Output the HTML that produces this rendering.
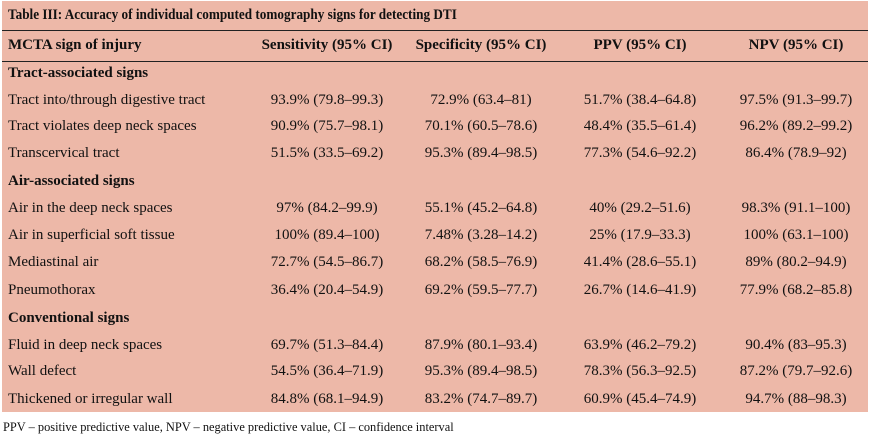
<!DOCTYPE html>
<html><head><style>
body{margin:0;width:869px;height:435px;background:#fff;font-family:"Liberation Serif",serif;font-size:15px;color:#111;position:relative;overflow:hidden}
.bg{position:absolute;left:2px;top:1px;width:866px;height:411px;background:#edb8a8}
.l{position:absolute;left:2px;width:866px;height:1px;background:#222}
.r{position:absolute;left:0;width:869px;height:20px;line-height:20px;white-space:nowrap}
.r span{position:absolute;text-align:center;width:170px}
.a{left:8px;text-align:left!important;width:auto!important}
.c1{left:242px}.c2{left:396px}.c3{left:555px}.c4{left:711px}
b{font-weight:bold}
</style></head><body>
<div class="bg"></div>
<div class="l" style="top:30px"></div>
<div class="l" style="top:61px"></div>
<div class="r" style="top:5px"><span class="a" style="transform:scaleX(0.88);transform-origin:0 0"><b>Table III: Accuracy of individual computed tomography signs for detecting DTI</b></span></div>
<div class="r" style="top:35px;font-weight:bold"><span class="a">MCTA sign of injury</span><span class="c1">Sensitivity (95% CI)</span><span class="c2">Specificity (95% CI)</span><span class="c3">PPV (95% CI)</span><span class="c4">NPV (95% CI)</span></div>
<div class="r" style="top:63px"><span class="a"><b>Tract-associated signs</b></span></div>
<div class="r" style="top:90px"><span class="a">Tract into/through digestive tract</span><span class="c1">93.9% (79.8–99.3)</span><span class="c2">72.9% (63.4–81)</span><span class="c3">51.7% (38.4–64.8)</span><span class="c4">97.5% (91.3–99.7)</span></div>
<div class="r" style="top:116px"><span class="a">Tract violates deep neck spaces</span><span class="c1">90.9% (75.7–98.1)</span><span class="c2">70.1% (60.5–78.6)</span><span class="c3">48.4% (35.5–61.4)</span><span class="c4">96.2% (89.2–99.2)</span></div>
<div class="r" style="top:143px"><span class="a">Transcervical tract</span><span class="c1">51.5% (33.5–69.2)</span><span class="c2">95.3% (89.4–98.5)</span><span class="c3">77.3% (54.6–92.2)</span><span class="c4">86.4% (78.9–92)</span></div>
<div class="r" style="top:171px"><span class="a"><b>Air-associated signs</b></span></div>
<div class="r" style="top:198px"><span class="a">Air in the deep neck spaces</span><span class="c1">97% (84.2–99.9)</span><span class="c2">55.1% (45.2–64.8)</span><span class="c3">40% (29.2–51.6)</span><span class="c4">98.3% (91.1–100)</span></div>
<div class="r" style="top:225px"><span class="a">Air in superficial soft tissue</span><span class="c1">100% (89.4–100)</span><span class="c2">7.48% (3.28–14.2)</span><span class="c3">25% (17.9–33.3)</span><span class="c4">100% (63.1–100)</span></div>
<div class="r" style="top:252px"><span class="a">Mediastinal air</span><span class="c1">72.7% (54.5–86.7)</span><span class="c2">68.2% (58.5–76.9)</span><span class="c3">41.4% (28.6–55.1)</span><span class="c4">89% (80.2–94.9)</span></div>
<div class="r" style="top:280px"><span class="a">Pneumothorax</span><span class="c1">36.4% (20.4–54.9)</span><span class="c2">69.2% (59.5–77.7)</span><span class="c3">26.7% (14.6–41.9)</span><span class="c4">77.9% (68.2–85.8)</span></div>
<div class="r" style="top:308px"><span class="a"><b>Conventional signs</b></span></div>
<div class="r" style="top:335px"><span class="a">Fluid in deep neck spaces</span><span class="c1">69.7% (51.3–84.4)</span><span class="c2">87.9% (80.1–93.4)</span><span class="c3">63.9% (46.2–79.2)</span><span class="c4">90.4% (83–95.3)</span></div>
<div class="r" style="top:361px"><span class="a">Wall defect</span><span class="c1">54.5% (36.4–71.9)</span><span class="c2">95.3% (89.4–98.5)</span><span class="c3">78.3% (56.3–92.5)</span><span class="c4">87.2% (79.7–92.6)</span></div>
<div class="r" style="top:389px"><span class="a">Thickened or irregular wall</span><span class="c1">84.8% (68.1–94.9)</span><span class="c2">83.2% (74.7–89.7)</span><span class="c3">60.9% (45.4–74.9)</span><span class="c4">94.7% (88–98.3)</span></div>
<div class="r" style="top:417px;font-size:12.4px"><span style="left:3px;text-align:left;width:auto">PPV – positive predictive value, NPV – negative predictive value, CI – confidence interval</span></div>
</body></html>
